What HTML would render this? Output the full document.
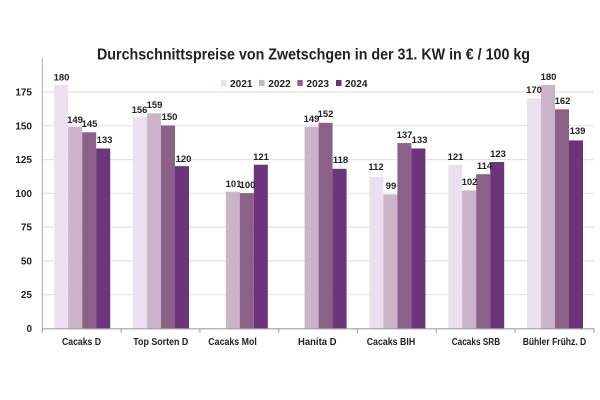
<!DOCTYPE html>
<html><head><meta charset="utf-8"><style>
html,body{margin:0;padding:0;background:#fff;}
svg{display:block;}
text{font-family:"Liberation Sans",sans-serif;font-weight:bold;fill:#222;}
</style></head><body>
<svg width="600" height="400" viewBox="0 0 600 400" xmlns="http://www.w3.org/2000/svg">
<rect width="600" height="400" fill="#fff"/>
<text x="313.5" y="59.5" font-size="15.5" text-anchor="middle" textLength="433" lengthAdjust="spacingAndGlyphs">Durchschnittspreise von Zwetschgen in der 31. KW in € / 100 kg</text>
<g stroke="#e4e4e4" stroke-width="1.2">
<line x1="42" y1="294.7" x2="594" y2="294.7"/>
<line x1="42" y1="260.9" x2="594" y2="260.9"/>
<line x1="42" y1="227.1" x2="594" y2="227.1"/>
<line x1="42" y1="193.3" x2="594" y2="193.3"/>
<line x1="42" y1="159.6" x2="594" y2="159.6"/>
<line x1="42" y1="125.8" x2="594" y2="125.8"/>
<line x1="42" y1="92.0" x2="594" y2="92.0"/>
</g>
<g font-size="10" text-anchor="end">
<text x="32" y="332">0</text>
<text x="32" y="298.2">25</text>
<text x="32" y="264.4">50</text>
<text x="32" y="230.6">75</text>
<text x="32" y="196.8">100</text>
<text x="32" y="163.1">125</text>
<text x="32" y="129.3">150</text>
<text x="32" y="95.5">175</text>
</g>
<!-- legend -->
<rect x="221" y="80" width="5.5" height="6" fill="#ebe1ee"/>
<rect x="259" y="80" width="5.5" height="6" fill="#cbb3c9"/>
<rect x="297.3" y="80" width="5.5" height="6" fill="#8b6188"/>
<rect x="336" y="80" width="5.5" height="6" fill="#6c347a"/>
<g font-size="10.3">
<text x="230" y="87" textLength="22.5" lengthAdjust="spacingAndGlyphs">2021</text>
<text x="268.3" y="87" textLength="22.5" lengthAdjust="spacingAndGlyphs">2022</text>
<text x="306.5" y="87" textLength="22.5" lengthAdjust="spacingAndGlyphs">2023</text>
<text x="345" y="87" textLength="22.5" lengthAdjust="spacingAndGlyphs">2024</text>
</g>
<!-- bars -->
<g>
<!-- Cacaks D -->
<rect x="54.2" y="85" width="14" height="243.5" fill="#ebe1ee"/>
<rect x="68.2" y="126.9" width="14" height="201.6" fill="#cbb3c9"/>
<rect x="82.2" y="132.3" width="14" height="196.2" fill="#8b6188"/>
<rect x="96.2" y="148.5" width="14" height="180" fill="#6c347a"/>
<!-- Top Sorten D -->
<rect x="133" y="117.4" width="14" height="211.1" fill="#ebe1ee"/>
<rect x="147" y="113.4" width="14" height="215.1" fill="#cbb3c9"/>
<rect x="161" y="125.5" width="14" height="203" fill="#8b6188"/>
<rect x="175" y="166.1" width="14" height="162.4" fill="#6c347a"/>
<!-- Cacaks Mol -->
<rect x="225.8" y="191.7" width="14" height="136.8" fill="#cbb3c9"/>
<rect x="239.8" y="193.1" width="14" height="135.4" fill="#8b6188"/>
<rect x="253.8" y="164.7" width="14" height="163.8" fill="#6c347a"/>
<!-- Hanita D -->
<rect x="304.6" y="126.9" width="14" height="201.6" fill="#cbb3c9"/>
<rect x="318.6" y="122.8" width="14" height="205.7" fill="#8b6188"/>
<rect x="332.6" y="168.8" width="14" height="159.7" fill="#6c347a"/>
<!-- Cacaks BIH -->
<rect x="369.4" y="176.9" width="14" height="151.6" fill="#ebe1ee"/>
<rect x="383.4" y="194.5" width="14" height="134" fill="#cbb3c9"/>
<rect x="397.4" y="143.1" width="14" height="185.4" fill="#8b6188"/>
<rect x="411.4" y="148.5" width="14" height="180" fill="#6c347a"/>
<!-- Cacaks SRB -->
<rect x="448.2" y="164.7" width="14" height="163.8" fill="#ebe1ee"/>
<rect x="462.2" y="190.4" width="14" height="138.1" fill="#cbb3c9"/>
<rect x="476.2" y="174.2" width="14" height="154.3" fill="#8b6188"/>
<rect x="490.2" y="162" width="14" height="166.5" fill="#6c347a"/>
<!-- Bühler -->
<rect x="527" y="98.5" width="14" height="230" fill="#ebe1ee"/>
<rect x="541" y="85" width="14" height="243.5" fill="#cbb3c9"/>
<rect x="555" y="109.3" width="14" height="219.2" fill="#8b6188"/>
<rect x="569" y="140.4" width="14" height="188.1" fill="#6c347a"/>
</g>
<!-- axes -->
<line x1="42.3" y1="58" x2="42.3" y2="329" stroke="#a8a8a8" stroke-width="1"/>
<line x1="42" y1="328.8" x2="594.5" y2="328.8" stroke="#a0a0a0" stroke-width="1.2"/>
<g stroke="#a0a0a0" stroke-width="1">
<line x1="42.3" y1="328.8" x2="42.3" y2="333"/>
<line x1="121.1" y1="328.8" x2="121.1" y2="333"/>
<line x1="199.9" y1="328.8" x2="199.9" y2="333"/>
<line x1="278.7" y1="328.8" x2="278.7" y2="333"/>
<line x1="357.5" y1="328.8" x2="357.5" y2="333"/>
<line x1="436.3" y1="328.8" x2="436.3" y2="333"/>
<line x1="515.1" y1="328.8" x2="515.1" y2="333"/>
<line x1="593.9" y1="328.8" x2="593.9" y2="333"/>
</g>
<!-- value labels -->
<g font-size="9.5" text-anchor="middle">
<text x="61.5" y="80.5">180</text>
<text x="75" y="123">149</text>
<text x="89.5" y="127">145</text>
<text x="104.5" y="143">133</text>
<text x="139.5" y="113">156</text>
<text x="154.5" y="108">159</text>
<text x="169.5" y="120">150</text>
<text x="183.5" y="162">120</text>
<text x="233.5" y="187">101</text>
<text x="247.5" y="188">100</text>
<text x="261" y="160">121</text>
<text x="311.5" y="122">149</text>
<text x="325.5" y="117">152</text>
<text x="340.5" y="163">118</text>
<text x="376" y="170">112</text>
<text x="391" y="189">99</text>
<text x="404.5" y="138">137</text>
<text x="419.5" y="143">133</text>
<text x="455.5" y="160">121</text>
<text x="469.5" y="185">102</text>
<text x="484.5" y="169">114</text>
<text x="498" y="157">123</text>
<text x="534" y="93">170</text>
<text x="548.5" y="80">180</text>
<text x="562.5" y="104">162</text>
<text x="577.5" y="134">139</text>
</g>
<!-- category labels -->
<g font-size="10">
<text x="62" y="345" textLength="39" lengthAdjust="spacingAndGlyphs">Cacaks  D</text>
<text x="133.3" y="345" textLength="55" lengthAdjust="spacingAndGlyphs">Top Sorten  D</text>
<text x="208.3" y="345" textLength="48.5" lengthAdjust="spacingAndGlyphs">Cacaks  Mol</text>
<text x="298" y="345" textLength="38.5" lengthAdjust="spacingAndGlyphs">Hanita  D</text>
<text x="366.7" y="345" textLength="48.5" lengthAdjust="spacingAndGlyphs">Cacaks  BIH</text>
<text x="451.7" y="345" textLength="48.5" lengthAdjust="spacingAndGlyphs">Cacaks  SRB</text>
<text x="522.7" y="345" textLength="63.5" lengthAdjust="spacingAndGlyphs">Bühler Frühz. D</text>
</g>
</svg>
</body></html>
